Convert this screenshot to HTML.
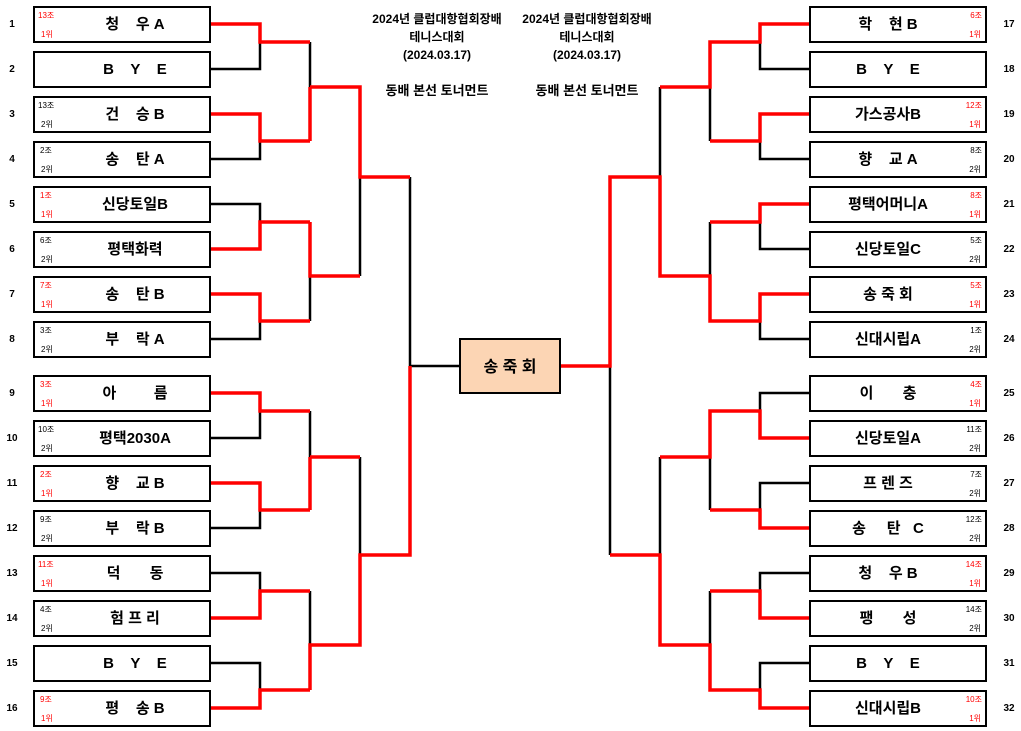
<!DOCTYPE html>
<html><head><meta charset="utf-8"><style>
html,body{margin:0;padding:0;background:#fff;}
svg{display:block;font-family:"Liberation Sans","Noto Sans CJK KR",sans-serif;}
.n{font-size:15px;font-weight:bold;text-anchor:middle;white-space:pre;}
.s{font-size:8px;}
.r{fill:#ff0000;}
.num{font-size:10px;font-weight:bold;text-anchor:middle;}
.t{font-size:12px;font-weight:bold;text-anchor:middle;}
</style></head><body>
<svg width="1021" height="731" viewBox="0 0 1021 731" xmlns="http://www.w3.org/2000/svg" xml:space="preserve">
<g fill="none" stroke="#000" stroke-width="2.5">
<path d="M210 69H260V42M210 159H260V141M210 204H260V222M210 339H260V321M310 42V87M310 276V321M360 177V276M410 177V366M410 366H460M210 438H260V411M210 528H260V510M210 573H260V591M210 663H260V690M310 411V457M360 457V555M310 591V645"/>
<path d="M810 69H760V42M810 159H760V141M710 87V141M660 87V177M810 249H760V222M710 222V276M810 339H760V321M610 366V555M810 393H760V411M810 483H760V510M710 457V510M660 457V555M810 573H760V591M810 663H760V690M710 591V645"/>
</g>
<g fill="none" stroke="#ff0000" stroke-width="3.5">
<path d="M210 24H260V42H310M210 114H260V141H310M310 87V141M310 87H360V177H410M210 249H260V222H310M310 222V276H360M210 294H260V321H310M210 393H260V411H310M310 457V510M310 457H360M210 483H260V510H310M410 366V555H360V645H310V690M210 618H260V591H310M210 708H260V690H310"/>
<path d="M810 24H760V42H710V87H660M810 114H760V141H710M810 204H760V222H710M560 366H610V177H660V276H710V321H760V294H810M610 555H660V645H710V690H760V708H810M660 457H710V411H760V438H810M810 528H760V510H710M710 591H760V618H810"/>
</g>
<g fill="#fff" stroke="#000" stroke-width="2">
<rect x="34" y="7" width="176" height="35"/><rect x="34" y="52" width="176" height="35"/><rect x="34" y="97" width="176" height="35"/><rect x="34" y="142" width="176" height="35"/>
<rect x="34" y="187" width="176" height="35"/><rect x="34" y="232" width="176" height="35"/><rect x="34" y="277" width="176" height="35"/><rect x="34" y="322" width="176" height="35"/>
<rect x="34" y="376" width="176" height="35"/><rect x="34" y="421" width="176" height="35"/><rect x="34" y="466" width="176" height="35"/><rect x="34" y="511" width="176" height="35"/>
<rect x="34" y="556" width="176" height="35"/><rect x="34" y="601" width="176" height="35"/><rect x="34" y="646" width="176" height="35"/><rect x="34" y="691" width="176" height="35"/>
<rect x="810" y="7" width="176" height="35"/><rect x="810" y="52" width="176" height="35"/><rect x="810" y="97" width="176" height="35"/><rect x="810" y="142" width="176" height="35"/>
<rect x="810" y="187" width="176" height="35"/><rect x="810" y="232" width="176" height="35"/><rect x="810" y="277" width="176" height="35"/><rect x="810" y="322" width="176" height="35"/>
<rect x="810" y="376" width="176" height="35"/><rect x="810" y="421" width="176" height="35"/><rect x="810" y="466" width="176" height="35"/><rect x="810" y="511" width="176" height="35"/>
<rect x="810" y="556" width="176" height="35"/><rect x="810" y="601" width="176" height="35"/><rect x="810" y="646" width="176" height="35"/><rect x="810" y="691" width="176" height="35"/>
<rect x="460" y="339" width="100" height="54" fill="#fcd5b4"/>
</g>
<text x="510" y="372" class="n" style="font-size:16px">송 죽 회</text>
<g class="t">
<text x="437" y="23">2024년 클럽대항협회장배</text><text x="437" y="41">테니스대회</text><text x="437" y="59">(2024.03.17)</text><text x="437" y="95" style="font-size:13px">동배 본선 토너먼트</text>
<text x="587" y="23">2024년 클럽대항협회장배</text><text x="587" y="41">테니스대회</text><text x="587" y="59">(2024.03.17)</text><text x="587" y="95" style="font-size:13px">동배 본선 토너먼트</text>
</g>
<g class="num">
<text x="12" y="27">1</text><text x="12" y="72">2</text><text x="12" y="117">3</text><text x="12" y="162">4</text><text x="12" y="207">5</text><text x="12" y="252">6</text><text x="12" y="297">7</text><text x="12" y="342">8</text>
<text x="12" y="396">9</text><text x="12" y="441">10</text><text x="12" y="486">11</text><text x="12" y="531">12</text><text x="12" y="576">13</text><text x="12" y="621">14</text><text x="12" y="666">15</text><text x="12" y="711">16</text>
<text x="1009" y="27">17</text><text x="1009" y="72">18</text><text x="1009" y="117">19</text><text x="1009" y="162">20</text><text x="1009" y="207">21</text><text x="1009" y="252">22</text><text x="1009" y="297">23</text><text x="1009" y="342">24</text>
<text x="1009" y="396">25</text><text x="1009" y="441">26</text><text x="1009" y="486">27</text><text x="1009" y="531">28</text><text x="1009" y="576">29</text><text x="1009" y="621">30</text><text x="1009" y="666">31</text><text x="1009" y="711">32</text>
</g>
<g class="n" xml:space="preserve">
<text x="135" y="29" xml:space="preserve">청    우 A</text><text x="135" y="74" xml:space="preserve">B    Y    E</text><text x="135" y="119" xml:space="preserve">건    승 B</text><text x="135" y="164" xml:space="preserve">송    탄 A</text>
<text x="135" y="209">신당토일B</text><text x="135" y="254">평택화력</text><text x="135" y="299" xml:space="preserve">송    탄 B</text><text x="135" y="344" xml:space="preserve">부    락 A</text>
<text x="135" y="398" xml:space="preserve">아         름</text><text x="135" y="443">평택2030A</text><text x="135" y="488" xml:space="preserve">향    교 B</text><text x="135" y="533" xml:space="preserve">부    락 B</text>
<text x="135" y="578" xml:space="preserve">덕       동</text><text x="135" y="623" xml:space="preserve">험 프 리</text><text x="135" y="668" xml:space="preserve">B    Y    E</text><text x="135" y="713" xml:space="preserve">평    송 B</text>
<text x="888" y="29" xml:space="preserve">학    현 B</text><text x="888" y="74" xml:space="preserve">B    Y    E</text><text x="888" y="119">가스공사B</text><text x="888" y="164" xml:space="preserve">향    교 A</text>
<text x="888" y="209">평택어머니A</text><text x="888" y="254">신당토일C</text><text x="888" y="299" xml:space="preserve">송 죽 회</text><text x="888" y="344">신대시립A</text>
<text x="888" y="398" xml:space="preserve">이       충</text><text x="888" y="443">신당토일A</text><text x="888" y="488" xml:space="preserve">프 렌 즈</text><text x="888" y="533" xml:space="preserve">송     탄   C</text>
<text x="888" y="578" xml:space="preserve">청    우 B</text><text x="888" y="623" xml:space="preserve">팽       성</text><text x="888" y="668" xml:space="preserve">B    Y    E</text><text x="888" y="713">신대시립B</text>
</g>
<g class="s">
<g class="r"><text x="38" y="18">13조</text><text x="41" y="37">1위</text></g>
<text x="38" y="108">13조</text><text x="41" y="127">2위</text>
<text x="40" y="153">2조</text><text x="41" y="172">2위</text>
<g class="r"><text x="40" y="198">1조</text><text x="41" y="217">1위</text></g>
<text x="40" y="243">6조</text><text x="41" y="262">2위</text>
<g class="r"><text x="40" y="288">7조</text><text x="41" y="307">1위</text></g>
<text x="40" y="333">3조</text><text x="41" y="352">2위</text>
<g class="r"><text x="40" y="387">3조</text><text x="41" y="406">1위</text></g>
<text x="38" y="432">10조</text><text x="41" y="451">2위</text>
<g class="r"><text x="40" y="477">2조</text><text x="41" y="496">1위</text></g>
<text x="40" y="522">9조</text><text x="41" y="541">2위</text>
<g class="r"><text x="38" y="567">11조</text><text x="41" y="586">1위</text></g>
<text x="40" y="612">4조</text><text x="41" y="631">2위</text>
<g class="r"><text x="40" y="702">9조</text><text x="41" y="721">1위</text></g>
<g text-anchor="end">
<g class="r"><text x="982" y="18">6조</text><text x="981" y="37">1위</text></g>
<g class="r"><text x="982" y="108">12조</text><text x="981" y="127">1위</text></g>
<text x="982" y="153">8조</text><text x="981" y="172">2위</text>
<g class="r"><text x="982" y="198">8조</text><text x="981" y="217">1위</text></g>
<text x="982" y="243">5조</text><text x="981" y="262">2위</text>
<g class="r"><text x="982" y="288">5조</text><text x="981" y="307">1위</text></g>
<text x="982" y="333">1조</text><text x="981" y="352">2위</text>
<g class="r"><text x="982" y="387">4조</text><text x="981" y="406">1위</text></g>
<text x="982" y="432">11조</text><text x="981" y="451">2위</text>
<text x="982" y="477">7조</text><text x="981" y="496">2위</text>
<text x="982" y="522">12조</text><text x="981" y="541">2위</text>
<g class="r"><text x="982" y="567">14조</text><text x="981" y="586">1위</text></g>
<text x="982" y="612">14조</text><text x="981" y="631">2위</text>
<g class="r"><text x="982" y="702">10조</text><text x="981" y="721">1위</text></g>
</g>
</g>
</svg>
</body></html>
